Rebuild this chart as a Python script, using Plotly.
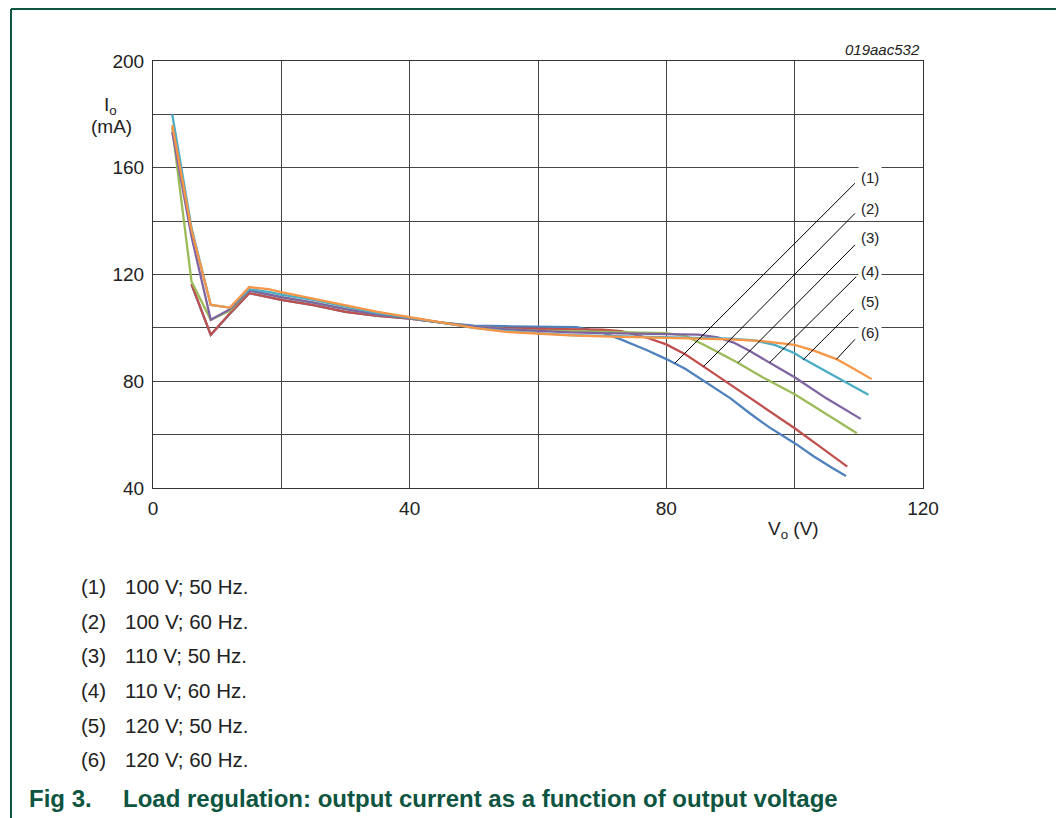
import plotly.graph_objects as go

# ---------------- data ----------------
series_ids = ["(1)", "(2)", "(3)", "(4)", "(5)", "(6)"]
series_labels = ["100 V; 50 Hz.", "100 V; 60 Hz.", "110 V; 50 Hz.",
                 "110 V; 60 Hz.", "120 V; 50 Hz.", "120 V; 60 Hz."]
series_colors = ["#4F81BD", "#C0504D", "#9BBB59", "#8064A2", "#4BACC6", "#F79646"]

x_1 = [6, 9, 12, 15, 18, 20, 25, 30, 35, 40, 45, 50, 55, 60, 66, 70, 73, 77, 80, 83, 86, 90, 93, 96, 100, 103, 106, 108]
y_1 = [116.2, 97.4, 105.3, 113.0, 111.5, 110.5, 108.5, 106.0, 104.5, 103.5, 102.0, 100.8, 100.6, 100.5, 100.3, 98.3, 95.6, 91.6, 88.3, 84.6, 79.8, 73.6, 68.0, 62.8, 56.8, 51.8, 47.3, 44.5]

x_2 = [6, 9, 12, 15, 18, 20, 25, 30, 35, 40, 45, 50, 55, 60, 65, 70, 73, 77, 80, 83, 86, 90, 95, 100, 104, 108.2]
y_2 = [116.5, 97.4, 105.5, 113.0, 111.5, 110.5, 108.5, 106.0, 104.5, 103.5, 102.0, 100.3, 99.8, 99.6, 99.5, 99.3, 98.8, 96.3, 93.8, 90.0, 85.2, 78.7, 70.6, 62.4, 55.4, 48.0]

x_3 = [3, 6, 9, 12, 15, 18, 20, 25, 30, 35, 40, 45, 50, 55, 60, 65, 70, 75, 80, 83, 86, 91, 95, 100, 105, 109.7]
y_3 = [175.0, 117.4, 103.0, 106.5, 114.0, 112.5, 111.5, 109.5, 107.0, 105.0, 103.7, 102.0, 100.5, 99.5, 99.0, 98.8, 98.5, 98.3, 98.0, 97.0, 93.5, 87.1, 81.5, 75.1, 67.5, 60.5]

x_4 = [3, 6, 9, 12, 15, 18, 20, 25, 30, 35, 40, 45, 50, 55, 60, 65, 70, 75, 80, 85, 88, 90.5, 93, 96, 100, 105, 110.3]
y_4 = [173.4, 134.2, 103.0, 107.0, 114.0, 112.5, 111.5, 109.5, 107.0, 105.0, 103.7, 102.0, 100.5, 99.5, 98.8, 98.3, 98.0, 97.8, 97.7, 97.5, 96.4, 94.5, 91.3, 87.2, 81.5, 73.5, 65.9]

x_5 = [3, 6, 9, 12, 15, 18, 20, 25, 30, 35, 40, 45, 50, 55, 60, 65, 70, 75, 80, 85, 90, 94, 97, 100, 101.5, 105, 108, 111.5]
y_5 = [180.0, 137.5, 108.6, 107.6, 114.5, 113.5, 112.5, 110.5, 108.0, 105.5, 103.8, 102.0, 100.0, 98.8, 98.0, 97.3, 97.0, 96.8, 96.6, 96.4, 96.0, 95.2, 93.5, 90.5, 88.2, 83.6, 79.6, 74.9]

x_6 = [3, 6, 9, 12, 15, 18, 20, 25, 30, 35, 40, 45, 50, 55, 60, 65, 70, 75, 80, 85, 90, 95, 100, 103, 106.5, 109, 112]
y_6 = [176.0, 136.7, 108.6, 107.6, 115.3, 114.5, 113.4, 111.0, 108.5, 106.0, 104.0, 102.0, 100.0, 98.5, 97.8, 97.2, 96.8, 96.5, 96.3, 96.0, 95.7, 95.0, 93.6, 91.5, 88.3, 85.0, 80.8]

x_ticks = [0, 40, 80, 120]
y_ticks = [40, 80, 120, 160, 200]

# leader lines from the curve labels to the curves
label_x = [111.7, 111.7, 111.7, 111.7, 111.7, 111.7]
label_y = [156.5, 144.9, 133.7, 121.3, 109.8, 98.4]
leader_x0 = [109.4, 109.4, 109.4, 109.6, 109.2, 109.4]
leader_y0 = [154.2, 142.9, 131.1, 119.2, 107.0, 95.7]
leader_x1 = [81.3, 85.8, 91.2, 96.1, 101.3, 106.5]
leader_y1 = [86.7, 85.5, 87.0, 87.0, 88.0, 88.2]

xs = [x_1, x_2, x_3, x_4, x_5, x_6]
ys = [y_1, y_2, y_3, y_4, y_5, y_6]

# ---------------- layout geometry ----------------
# the page body has an 8px margin, so the figure is 8px smaller and all
# window positions below are shifted by -8 px
OFF = 8
W, H = 1064 - OFF, 818 - OFF
ML, MT = 153 - OFF, 61 - OFF
PW, PH = 770, 427
MR, MB = W - ML - PW, H - MT - PH


def px(xp):
    return (xp - OFF - ML) / PW


def py(yp):
    return 1 - (yp - OFF - MT) / PH


FONT = "Liberation Sans, Arial, Helvetica, sans-serif"
GREEN = "#0d5441"
GRID = "#454545"

fig = go.Figure()
for i in range(6):
    fig.add_trace(go.Scatter(x=xs[i], y=ys[i], mode="lines", name=series_ids[i],
                             line=dict(color=series_colors[i], width=2.3),
                             showlegend=False, hoverinfo="skip"))

shapes = []
for i in range(6):
    shapes.append(dict(type="line", xref="x", yref="y",
                       x0=leader_x0[i], y0=leader_y0[i], x1=leader_x1[i], y1=leader_y1[i],
                       line=dict(color="black", width=1)))
# page frame
shapes.append(dict(type="line", xref="paper", yref="paper", x0=px(11), x1=px(1070),
                   y0=py(9), y1=py(9), line=dict(color=GREEN, width=2)))
shapes.append(dict(type="line", xref="paper", yref="paper", x0=px(11), x1=px(11),
                   y0=py(9), y1=py(830), line=dict(color=GREEN, width=2)))

ann = []
for i in range(6):
    ann.append(dict(x=label_x[i], y=label_y[i], xref="x", yref="y", text=series_ids[i],
                    showarrow=False, bgcolor="white", borderpad=2,
                    font=dict(family=FONT, size=15, color="#222")))
# legend list below
for i in range(6):
    yy = 586.7 + 34.6 * i
    ann.append(dict(x=px(79), y=py(yy), xref="paper", yref="paper", text=series_ids[i],
                    xanchor="left", yanchor="middle", showarrow=False,
                    font=dict(family=FONT, size=20.5, color="#222")))
    ann.append(dict(x=px(123), y=py(yy), xref="paper", yref="paper", text=series_labels[i],
                    xanchor="left", yanchor="middle", showarrow=False,
                    font=dict(family=FONT, size=20.5, color="#222")))
# caption
ann.append(dict(x=px(27), y=py(798), xref="paper", yref="paper", text="<b>Fig 3.</b>",
                xanchor="left", yanchor="middle", showarrow=False,
                font=dict(family=FONT, size=24, color=GREEN)))
ann.append(dict(x=px(121), y=py(798), xref="paper", yref="paper",
                text="<b>Load regulation: output current as a function of output voltage</b>",
                xanchor="left", yanchor="middle", showarrow=False,
                font=dict(family=FONT, size=24, color=GREEN)))
# axis titles
ann.append(dict(x=px(110), y=py(106), xref="paper", yref="paper", text="I<sub>o</sub>",
                xanchor="center", yanchor="middle", showarrow=False,
                font=dict(family=FONT, size=19, color="#222")))
ann.append(dict(x=px(111), y=py(127), xref="paper", yref="paper", text="(mA)",
                xanchor="center", yanchor="middle", showarrow=False,
                font=dict(family=FONT, size=19, color="#222")))
ann.append(dict(x=px(793), y=py(530), xref="paper", yref="paper", text="V<sub>o</sub> (V)",
                xanchor="center", yanchor="middle", showarrow=False,
                font=dict(family=FONT, size=19, color="#222")))
# figure code
ann.append(dict(x=px(922), y=py(50), xref="paper", yref="paper", text="<i>019aac532</i>",
                xanchor="right", yanchor="middle", showarrow=False,
                font=dict(family=FONT, size=15, color="#222")))

fig.update_layout(
    width=W, height=H,
    margin=dict(l=ML, r=MR, t=MT, b=MB, autoexpand=False),
    paper_bgcolor="white", plot_bgcolor="white",
    shapes=shapes, annotations=ann, showlegend=False,
    xaxis=dict(range=[0, 120], tickvals=x_ticks, ticktext=[str(v) for v in x_ticks],
               showgrid=True, gridcolor=GRID, gridwidth=1,
               minor=dict(dtick=20, showgrid=True, gridcolor=GRID, gridwidth=1, ticks=""),
               showline=True, linecolor="#333", linewidth=1, mirror=True,
               ticks="", zeroline=False, ticklabelstandoff=3,
               tickfont=dict(family=FONT, size=19, color="#222")),
    yaxis=dict(range=[40, 200], tickvals=y_ticks, ticktext=[str(v) for v in y_ticks],
               showgrid=True, gridcolor=GRID, gridwidth=1,
               minor=dict(dtick=20, showgrid=True, gridcolor=GRID, gridwidth=1, ticks=""),
               showline=True, linecolor="#333", linewidth=1, mirror=True,
               ticks="", zeroline=False, ticklabelstandoff=4,
               tickfont=dict(family=FONT, size=19, color="#222")),
)

fig.write_html("out.html")
